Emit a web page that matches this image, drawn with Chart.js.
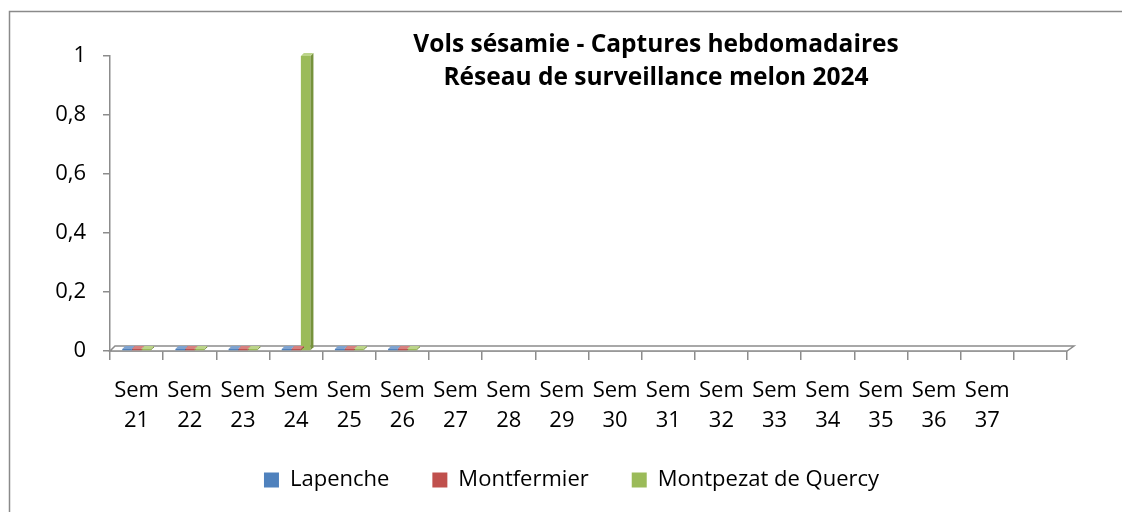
<!DOCTYPE html>
<html>
<head>
<meta charset="utf-8">
<script src="https://cdn.jsdelivr.net/npm/chart.js@4.4.1/dist/chart.umd.min.js"></script>
<style>
  html, body { margin: 0; padding: 0; background: #fff; }
  #wrap { width: 1122px; height: 512px; }
</style>
</head>
<body>
<div id="wrap"><canvas id="chart" width="1122" height="512"></canvas></div>
<script>
/* ================================
   DATA
================================ */
const weeks = ['Sem 21','Sem 22','Sem 23','Sem 24','Sem 25','Sem 26','Sem 27','Sem 28','Sem 29',
  'Sem 30','Sem 31','Sem 32','Sem 33','Sem 34','Sem 35','Sem 36','Sem 37',''];
const lapenche    = [0, 0, 0, 0, 0, 0, null, null, null, null, null, null, null, null, null, null, null, null];
const montfermier = [0, 0, 0, 0, 0, 0, null, null, null, null, null, null, null, null, null, null, null, null];
const montpezat   = [0, 0, 0, 1, 0, 0, null, null, null, null, null, null, null, null, null, null, null, null];
const yTickLabels = ['0', '0,2', '0,4', '0,6', '0,8', '1'];
const titleLines = ['Vols sésamie - Captures hebdomadaires', 'Réseau de surveillance melon 2024'];

const FONT = "'Open Sans', sans-serif";
const AXIS_GREY = '#8c8c8c';
const DEPTH = 5;
const LEGEND_SHIFT_X = 38;
const LEGEND_SHIFT_Y = -7;

/* ================================
   PLUGINS
================================ */
// outer frame + title
const frame = {
  id: 'frame',
  afterDraw(chart) {
    const ctx = chart.ctx;
    ctx.save();
    ctx.strokeStyle = '#8a8a8a';
    ctx.lineWidth = 1.5;
    ctx.strokeRect(9.5, 11.5, 1200, 600);
    ctx.fillStyle = '#000';
    ctx.font = 'bold 24.5px ' + FONT;
    ctx.textAlign = 'center';
    ctx.textBaseline = 'middle';
    ctx.fillText(titleLines[0], 656, 45);
    ctx.fillText(titleLines[1], 656, 78);
    ctx.restore();
  }
};

// legend sits a bit right of centre in the original
const legendShift = {
  id: 'legendShift',
  afterLayout(chart) {
    const lg = chart.legend;
    lg.left += LEGEND_SHIFT_X;
    lg.right += LEGEND_SHIFT_X;
    lg.top += LEGEND_SHIFT_Y;
    lg.bottom += LEGEND_SHIFT_Y;
  }
};

// 3D floor under the bars
const floor = {
  id: 'floor',
  beforeDatasetsDraw(chart) {
    const { ctx, chartArea: a } = chart;
    const y0 = chart.scales.y.getPixelForValue(0);
    ctx.save();
    ctx.beginPath();
    ctx.moveTo(a.left, y0);
    ctx.lineTo(a.right, y0);
    ctx.lineTo(a.right + DEPTH + 2, y0 - DEPTH);
    ctx.lineTo(a.left + DEPTH, y0 - DEPTH);
    ctx.closePath();
    ctx.fillStyle = '#fff';
    ctx.fill();
    ctx.strokeStyle = AXIS_GREY;
    ctx.lineWidth = 1.5;
    ctx.stroke();
    ctx.restore();
  }
};

// darker side + lighter cap on each bar
const bars3d = {
  id: 'bars3d',
  afterDatasetsDraw(chart) {
    const ctx = chart.ctx;
    const sides = ['#3a6597', '#9a3b38', '#76923c'];
    const tops  = ['#7fa3d0', '#d7817f', '#bcd48a'];
    chart.data.datasets.forEach((ds, i) => {
      chart.getDatasetMeta(i).data.forEach((bar, j) => {
        if (ds.data[j] === null) return;
        const r = bar.x + bar.width / 2, l = bar.x - bar.width / 2;
        const top = bar.y, base = bar.base;
        const d = 3;
        ctx.save();
        ctx.fillStyle = sides[i];
        ctx.beginPath();
        ctx.moveTo(r, top); ctx.lineTo(r + d, top - d);
        ctx.lineTo(r + d, base - d); ctx.lineTo(r, base);
        ctx.closePath(); ctx.fill();
        ctx.fillStyle = tops[i];
        ctx.beginPath();
        ctx.moveTo(l, top); ctx.lineTo(l + d, top - d);
        ctx.lineTo(r + d, top - d); ctx.lineTo(r, top);
        ctx.closePath(); ctx.fill();
        ctx.restore();
      });
    });
  }
};

/* ================================
   CHART
================================ */
new Chart(document.getElementById('chart'), {
  type: 'bar',
  data: {
    labels: weeks.map(w => w.split(' ')),
    datasets: [
      { label: 'Lapenche', data: lapenche, backgroundColor: '#4f81bd' },
      { label: 'Montfermier', data: montfermier, backgroundColor: '#c0504d' },
      { label: 'Montpezat de Quercy', data: montpezat, backgroundColor: '#9bbb59' }
    ]
  },
  options: {
    responsive: false,
    animation: false,
    layout: { padding: { left: 0, right: 55, top: 56, bottom: 4 } },
    datasets: { bar: { categoryPercentage: 0.54, barPercentage: 1, minBarLength: 2 } },
    plugins: {
      title: { display: false },
      tooltip: { enabled: false },
      legend: {
        position: 'bottom',
        labels: {
          boxWidth: 15, boxHeight: 15, padding: 43,
          color: '#000', font: { family: FONT, size: 22 }
        }
      }
    },
    scales: {
      x: {
        afterFit(s) { s.height = 82; },
        border: { color: AXIS_GREY, width: 1.5 },
        grid: { display: true, drawOnChartArea: false, tickLength: 9, color: AXIS_GREY, lineWidth: 1.5, offset: true },
        ticks: { color: '#000', maxRotation: 0, autoSkip: false, padding: 16,
                 font: { family: FONT, size: 22, lineHeight: '30px' } }
      },
      y: {
        min: 0, max: 1,
        afterFit(s) { s.width = 110; },
        border: { color: AXIS_GREY, width: 1.5 },
        grid: { display: true, drawOnChartArea: false, tickLength: 7, color: AXIS_GREY, lineWidth: 1.5 },
        ticks: { stepSize: 0.2, color: '#000', padding: 17,
                 font: { family: FONT, size: 22 },
                 callback: (v, i) => yTickLabels[i] }
      }
    }
  },
  plugins: [legendShift, floor, bars3d, frame]
});
</script>
</body>
</html>
